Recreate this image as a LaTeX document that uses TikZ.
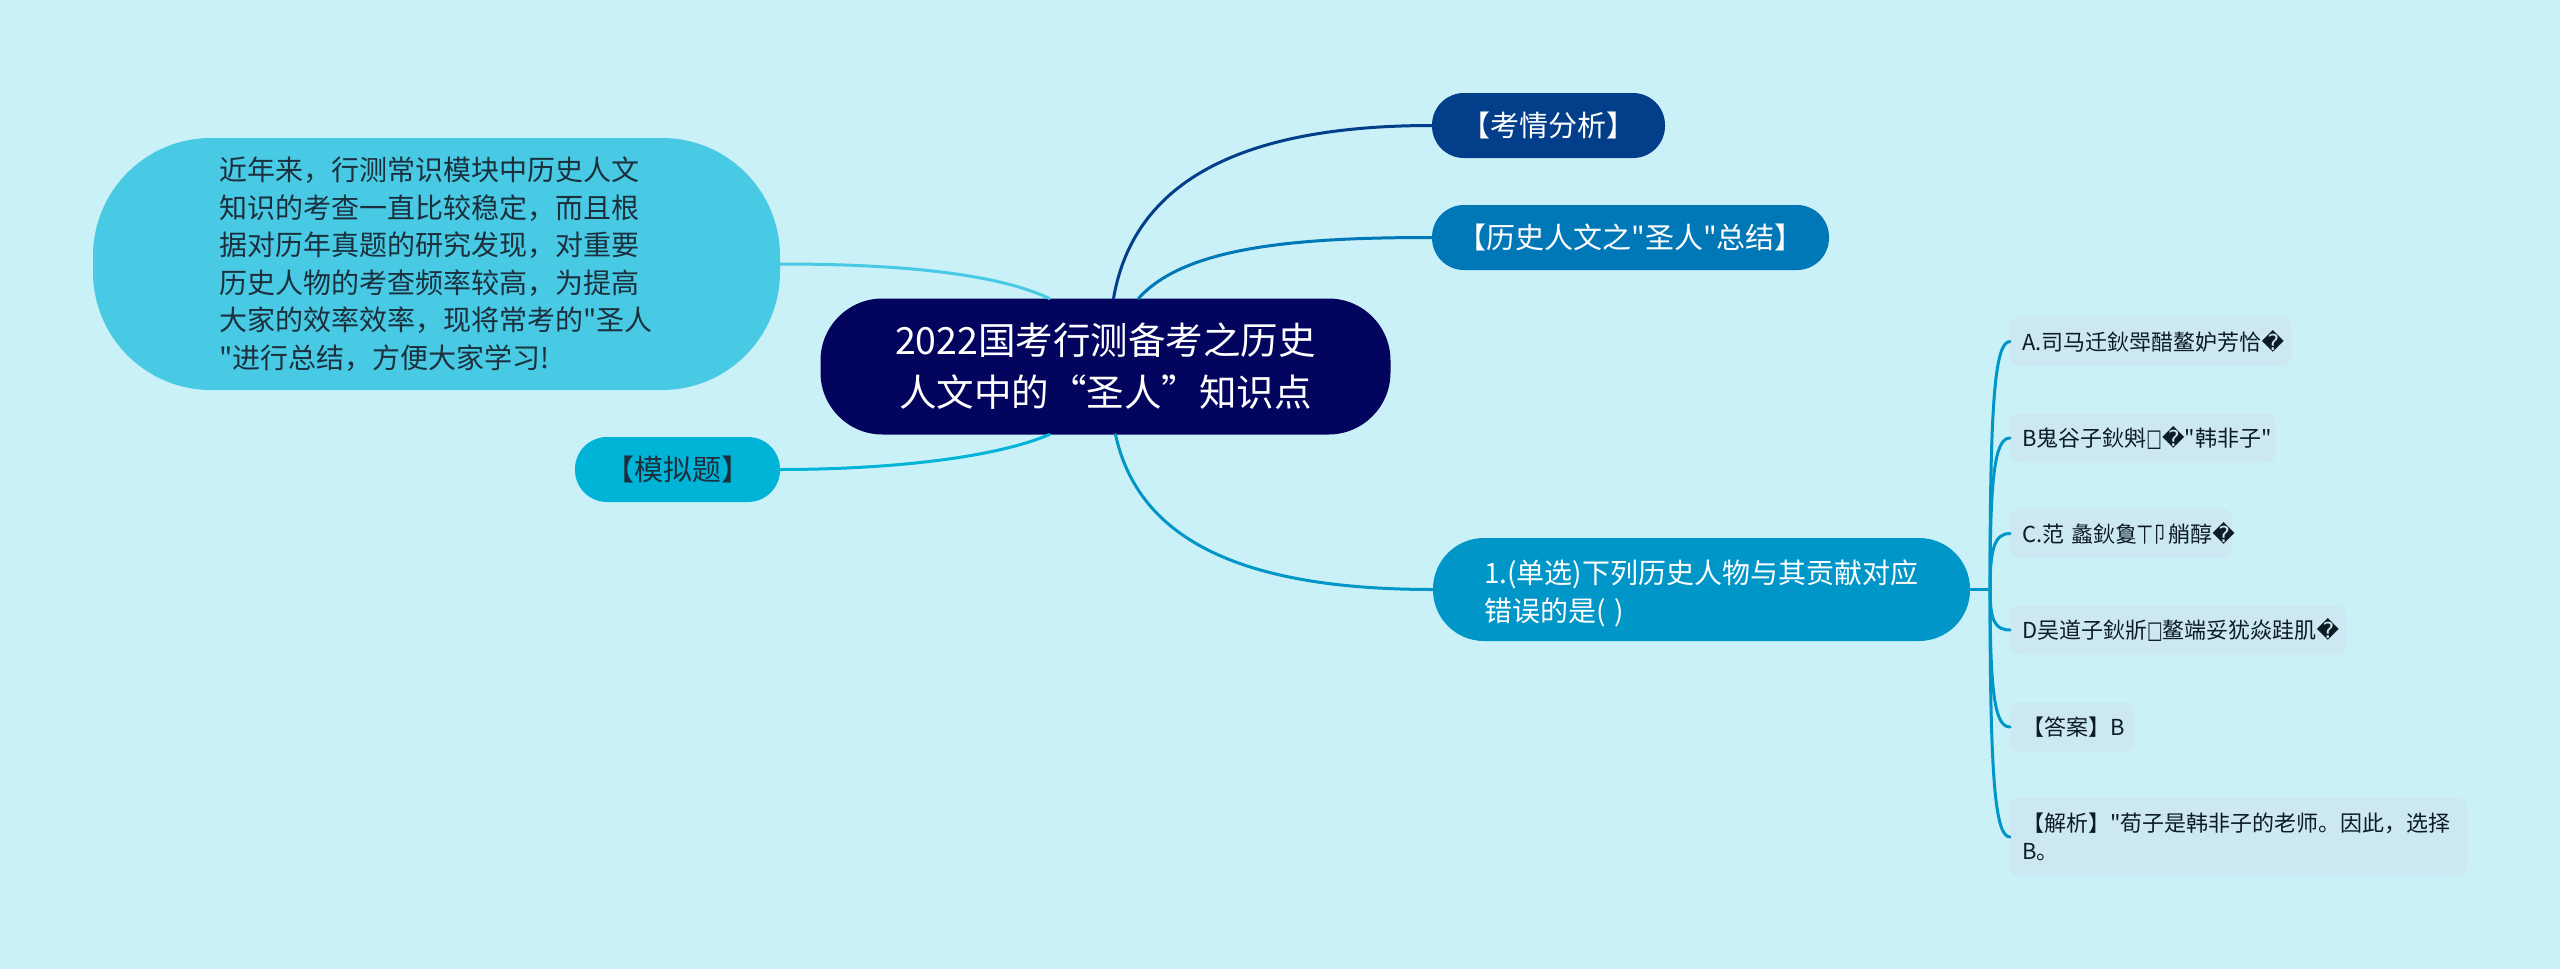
\documentclass[tikz,border=0pt]{standalone}
\usepackage{fontspec}
\usepackage{graphicx}
\newfontfamily\cjkfont{Noto Sans CJK SC}
\newfontfamily\symfont{DejaVu Sans}
\newcommand{\repl}{{\symfont\char"FFFD}}
\newcommand{\tofu}{\scalebox{.75}[1.1]{\symfont\char"25A1}}
\definecolor{bgc}{HTML}{CAF0F8}
\definecolor{rootc}{HTML}{03045E}
\definecolor{bluea}{HTML}{023E8A}
\definecolor{blueb}{HTML}{0077B6}
\definecolor{bluec}{HTML}{0096C7}
\definecolor{blued}{HTML}{00B4D8}
\definecolor{bluee}{HTML}{48CAE4}
\definecolor{leafc}{HTML}{CBE8F3}
\definecolor{inkc}{HTML}{0D1B24}
\definecolor{darktext}{HTML}{1B2F3D}
\tikzset{
  x=1pt,y=-1pt,
  boxbase/.style={rectangle,inner sep=0pt,outer sep=0pt,align=left},
  rootbox/.style={boxbase,fill=rootc,text=white,minimum width=570pt,minimum height=136pt,rounded corners=62pt,align=center,
    font=\cjkfont\fontsize{37.5}{52}\selectfont},
  branch/.style={boxbase,text=white,rounded corners=32pt,minimum height=65pt,align=center,
    font=\cjkfont\fontsize{29}{37.5}\selectfont},
  para/.style={font=\cjkfont\fontsize{28}{37.5}\selectfont,align=left,text width=435pt},
  leafbox/.style={boxbase,fill=leafc,text=inkc,rounded corners=9pt,minimum height=49pt,
    font=\cjkfont\fontsize{22}{28}\selectfont},
  link/.style={line width=3pt,line cap=round},
}
\begin{document}
\begin{tikzpicture}
\useasboundingbox (0,0) rectangle (2560,969);
\fill[bgc] (0,0) rectangle (2560,969);

\node[rootbox] (root) at (1105.5,366.5) {2022国考行测备考之历史\\人文中的“圣人”知识点};
\node[branch,fill=bluea,minimum width=233pt] (kq) at (1548.5,125.5) {【考情分析】};
\node[branch,fill=blueb,minimum width=397pt] (ls) at (1630.5,237.5) {【历史人文之"圣人"总结】};
\node[branch,para,fill=bluec,minimum width=537pt,minimum height=103pt,rounded corners=51pt] (q) at (1701.5,589.5) {\rule{0pt}{31pt}1.(单选)下列历史人物与其贡献对应\\错误的是( )};
\node[branch,para,fill=bluee,text=darktext,minimum width=687pt,minimum height=252pt,rounded corners=118pt] (intro) at (436.5,264) {近年来，行测常识模块中历史人文\\知识的考查一直比较稳定，而且根\\据对历年真题的研究发现，对重要\\历史人物的考查频率较高，为提高\\大家的效率效率，现将常考的"圣人\\"进行总结，方便大家学习!};
\node[branch,fill=blued,text=darktext,minimum width=205pt] (mn) at (677.5,469.5) {【模拟题】};

\node[leafbox,minimum width=281pt,text width=257pt] (la) at (2150.5,341.5) {A.司马迁鈥斝醋鳌妒芳恰\repl};
\node[leafbox,minimum width=265pt,text width=241pt] (lb) at (2142.5,438) {B鬼谷子鈥斞\tofu\repl"韩非子"};
\node[leafbox,minimum width=222pt,text width=198pt] (lc) at (2121,533.5) {\mbox{C.范 蠡鈥敻\scalebox{.7}[1]{丅卩}艄醇\repl}};
\node[leafbox,minimum width=336pt,text width=312pt] (ld) at (2178,630) {D吴道子鈥斨\tofu 鳌端妥犹焱跬肌\repl};
\node[leafbox,minimum width=123pt,text width=99pt] (le) at (2071.5,727) {【答案】B};
\node[leafbox,minimum width=457pt,text width=433pt,minimum height=78pt] (lf) at (2238.5,837) {【解析】"荀子是韩非子的老师。因此，选择\\B。};

\draw[link,bluea] ([xshift=8pt]root.north) .. controls +(22,-128) and +(-172,0) .. (kq.west);
\draw[link,blueb] ([xshift=33pt]root.north) .. controls +(47,-53) and +(-130,0) .. (ls.west);
\draw[link,bluec] ([xshift=10pt]root.south) .. controls +(25,115) and +(-173,0) .. (q.west);
\draw[link,bluee] ([xshift=-56pt]root.north) .. controls +(-59,-28) and +(100,0) .. (intro.east);
\draw[link,blued] ([xshift=-56pt]root.south) .. controls +(-59,25) and +(100,0) .. (mn.east);

\coordinate (bus) at ([xshift=20pt]q.east);
\draw[link,bluec] (q.east) -- (bus);
\draw[link,bluec] (bus) .. controls +(0,-189) and +(-15,0) .. (la.west);
\draw[link,bluec] (bus) .. controls +(0,-115) and +(-15,0) .. (lb.west);
\draw[link,bluec] (bus) .. controls +(0,-42) and +(-15,0) .. (lc.west);
\draw[link,bluec] (bus) .. controls +(0,31) and +(-15,0) .. (ld.west);
\draw[link,bluec] (bus) .. controls +(0,105) and +(-15,0) .. (le.west);
\draw[link,bluec] (bus) .. controls +(0,188) and +(-15,0) .. (lf.west);
\end{tikzpicture}
\end{document}
